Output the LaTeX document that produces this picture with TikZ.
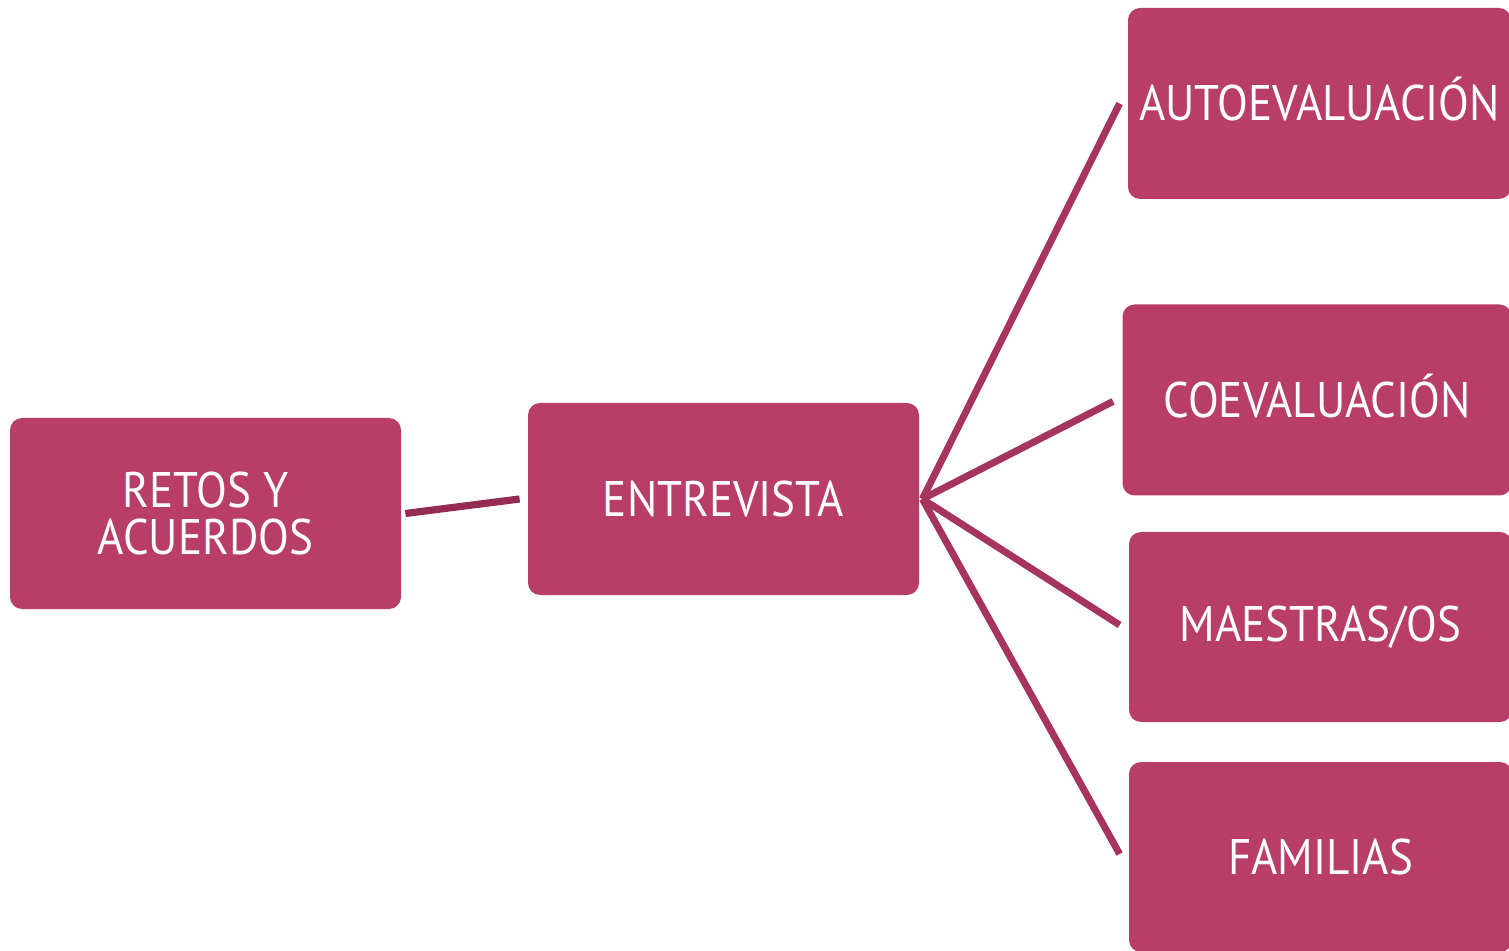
\documentclass[tikz,border=0pt]{standalone}
\usepackage{fontspec}
\setmainfont{PT Sans}[FakeStretch=0.9]
\definecolor{boxc}{HTML}{B83D67}
\definecolor{linec}{HTML}{A5355E}
\definecolor{linedk}{HTML}{952B52}
\tikzset{
  mbox/.style={fill=boxc, rounded corners=6pt, text=white, inner sep=0pt,
    font=\fontsize{25}{23.5}\selectfont, align=center},
  accent/.style={text height=17.5pt, text depth=0pt},
  fan/.style={draw=linec, line width=3.5pt},
  leftln/.style={draw=linedk, line width=3.6pt}
}
\begin{document}
\begin{tikzpicture}[x=0.5pt,y=-0.5pt]
\useasboundingbox (0,0) rectangle (1509,951);
\node[mbox, minimum width=195.5pt, minimum height=95.5pt] (retos) at (205.5,513.5) {RETOS Y\\ACUERDOS};
\node[mbox, minimum width=195.5pt, minimum height=96pt] (entre) at (723.5,499) {ENTREVISTA};
\node[mbox, accent, minimum width=191.5pt, minimum height=95.5pt] (auto) at (1319.5,103.5) {AUTOEVALUACIÓN};
\node[mbox, accent, minimum width=194.5pt, minimum height=95.5pt] (coev) at (1317,400) {COEVALUACIÓN};
\node[mbox, minimum width=191.5pt, minimum height=95pt] (maes) at (1320.5,627) {MAESTRAS/OS};
\node[mbox, minimum width=191.5pt, minimum height=95pt] (fam) at (1320.5,857) {FAMILIAS};
\coordinate (hub) at ([xshift=1.5pt]entre.east);
\draw[leftln] ([xshift=2pt]retos.east) -- ([xshift=-4pt]entre.west);
\draw[fan] (hub) -- ([xshift=-4pt]auto.west);
\draw[fan] (hub) -- ([xshift=-4.5pt,yshift=-0.7pt]coev.west);
\draw[fan] (hub) -- ([xshift=-4.5pt,yshift=1pt]maes.west);
\draw[fan] (hub) -- ([xshift=-4.5pt,yshift=1.5pt]fam.west);
\end{tikzpicture}
\end{document}
